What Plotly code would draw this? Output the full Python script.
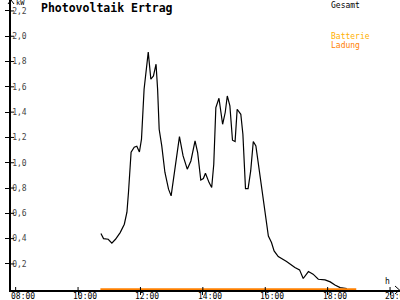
import plotly.graph_objects as go

# ---- data ----
times = ["10:44", "10:49", "10:58", "11:05", "11:12", "11:21", "11:29", "11:34", "11:37", "11:42",
         "11:48", "11:53", "11:58", "12:02", "12:07", "12:12", "12:15", "12:20", "12:25", "12:30",
         "12:33", "12:36", "12:41", "12:47", "12:54", "12:59", "13:06", "13:15", "13:22", "13:30",
         "13:37", "13:45", "13:50", "13:56", "14:01", "14:05", "14:12", "14:17", "14:21", "14:25",
         "14:31", "14:38", "14:43", "14:47", "14:52", "14:57", "15:02", "15:06", "15:13", "15:17",
         "15:22", "15:27", "15:32", "15:37", "15:42", "15:50", "16:00", "16:06", "16:12", "16:17",
         "16:25", "16:41", "16:57", "17:06", "17:13", "17:23", "17:32", "17:42", "17:55", "18:05",
         "18:14", "18:24", "18:37"]
gesamt_kw = [0.44, 0.40, 0.395, 0.364, 0.395, 0.448, 0.514, 0.609, 0.767, 1.083,
             1.123, 1.130, 1.085, 1.186, 1.581, 1.794, 1.874, 1.660, 1.686, 1.779,
             1.581, 1.265, 1.133, 0.925, 0.791, 0.738, 0.949, 1.207, 1.054, 0.949,
             1.014, 1.172, 1.081, 0.864, 0.875, 0.917, 0.843, 0.804, 0.988, 1.436,
             1.510, 1.304, 1.397, 1.528, 1.449, 1.178, 1.168, 1.423, 1.383, 1.225,
             0.796, 0.796, 0.935, 1.168, 1.133, 0.883, 0.593, 0.421, 0.369, 0.303,
             0.258, 0.219, 0.172, 0.153, 0.085, 0.140, 0.119, 0.079, 0.074, 0.058,
             0.034, 0.013, 0.006]
ladung_times = ["10:43", "18:55"]
ladung_kw = [0.0, 0.0]

x_tick_hours = [8, 10, 12, 14, 16, 18, 20]
x_tick_labels = ["08:00", "10:00", "12:00", "14:00", "16:00", "18:00", "20:00"]
y_tick_vals = [0.2, 0.4, 0.6, 0.8, 1.0, 1.2, 1.4, 1.6, 1.8, 2.0, 2.2]


def to_h(t):
    hh, mm = t.split(":")
    return int(hh) + int(mm) / 60.0


MONO = "DejaVu Sans Mono"
fig = go.Figure()
fig.add_trace(go.Scatter(x=[to_h(t) for t in times], y=gesamt_kw, mode="lines",
                         line=dict(color="black", width=1.2), name="Gesamt"))
fig.add_trace(go.Scatter(x=[to_h(t) for t in ladung_times], y=ladung_kw, mode="lines",
                         line=dict(color="#ff8000", width=2.2), name="Ladung"))

fig.update_layout(
    width=400, height=300,
    margin=dict(l=11, r=0, t=0, b=10),
    paper_bgcolor="white", plot_bgcolor="white",
    showlegend=False,
    separators=",.",
    font=dict(family=MONO, size=8, color="black"),
)
fig.update_xaxes(
    range=[7.851, 20.319], showgrid=False, zeroline=False,
    showline=True, linecolor="black", linewidth=1.5, layer="below traces",
    tickmode="array", tickvals=x_tick_hours, ticktext=x_tick_labels,
    ticks="outside", ticklen=3, tickcolor="black", tickwidth=1,
    showticklabels=False, automargin=False,
)
fig.update_yaxes(
    range=[-0.006, 2.2865], showgrid=False, zeroline=False,
    showline=True, linecolor="black", linewidth=1.5, layer="below traces",
    tickmode="array", tickvals=y_tick_vals, tickformat=".1f",
    ticks="outside", ticklen=4, tickcolor="black", tickwidth=1,
    ticklabelposition="inside", tickfont=dict(family=MONO, size=8),
    automargin=False,
)


def px(xp):
    return (xp - 11) / 389.0


def py(yp):
    return (290 - yp) / 290.0


# axis arrows
fig.add_shape(type="path", xref="paper", yref="paper",
              path=f"M {px(8)} {py(4)} L {px(11)} {py(0)} L {px(14)} {py(4)}",
              line=dict(color="black", width=1))
fig.add_shape(type="path", xref="paper", yref="paper",
              path=f"M {px(395)} {py(286)} L {px(399.5)} {py(290)} L {px(395)} {py(294)}",
              line=dict(color="black", width=1))
# tick marks crossing the axes
for v in y_tick_vals:
    fig.add_shape(type="line", xref="paper", yref="y", x0=px(11), x1=px(14), y0=v, y1=v,
                  line=dict(color="black", width=1))
for h in x_tick_hours:
    fig.add_shape(type="line", xref="x", yref="paper", x0=h, x1=h, y0=py(290), y1=py(287),
                  line=dict(color="black", width=1))
# x tick labels
for h, lab in zip(x_tick_hours, x_tick_labels):
    fig.add_annotation(text=lab, x=h, y=py(296), xref="x", yref="paper", xshift=7,
                       xanchor="center", yanchor="middle", showarrow=False,
                       font=dict(family=MONO, size=8, color="black"))

ann = [
    dict(text="Photovoltaik Ertrag", x=px(39), y=py(8), size=11.5, color="black", bold=True),
    dict(text="kW", x=px(14), y=py(3), size=7, color="black", bold=False),
    dict(text="Gesamt", x=px(329), y=py(5), size=8, color="black", bold=False),
    dict(text="Batterie", x=px(329), y=py(36), size=8, color="#ffb000", bold=False),
    dict(text="Ladung", x=px(329), y=py(45.5), size=8, color="#ff8000", bold=False),
    dict(text="h", x=px(383), y=py(281), size=8, color="black", bold=False),
]
for a in ann:
    txt = f"<b>{a['text']}</b>" if a["bold"] else a["text"]
    fig.add_annotation(text=txt, x=a["x"], y=a["y"], xref="paper", yref="paper",
                       xanchor="left", yanchor="middle", showarrow=False,
                       font=dict(family=MONO, size=a["size"], color=a["color"]))

fig.write_html("out.html")
